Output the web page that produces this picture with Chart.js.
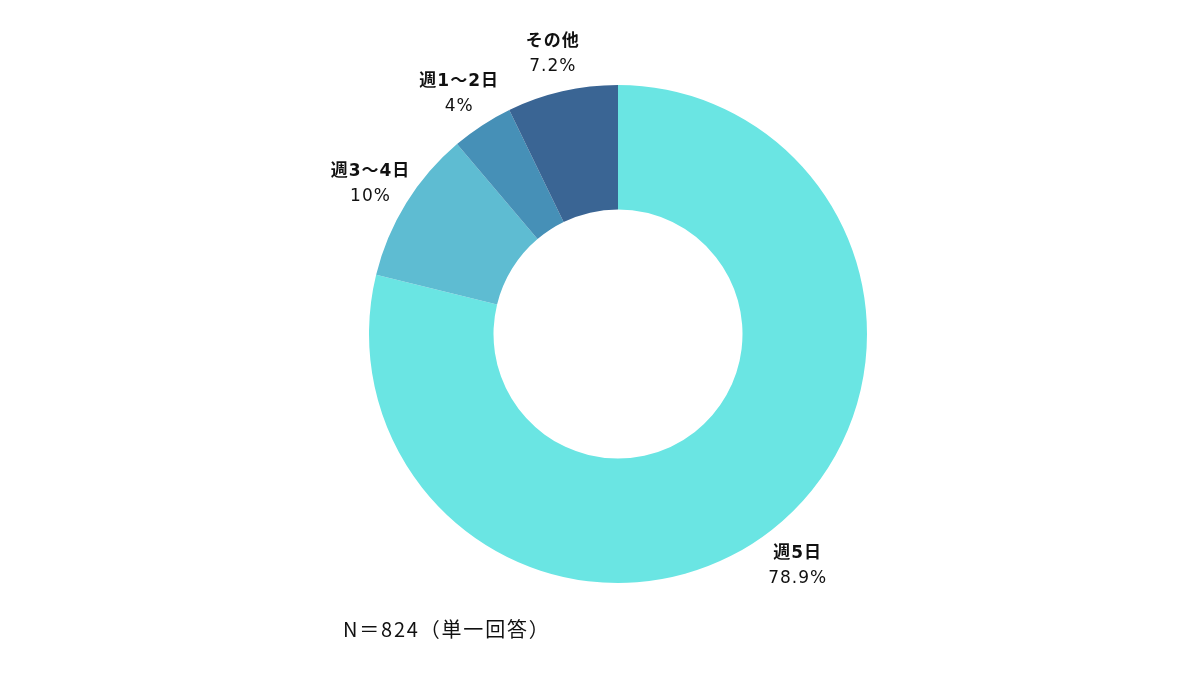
<!DOCTYPE html>
<html lang="ja">
<head>
    <meta charset="UTF-8">
    <title>勤務日数</title>
    <style>
        body {
            margin: 0;
            background: #ffffff;
            font-family: "Noto Sans CJK JP", "Noto Sans", sans-serif;
        }
        .wrap {
            position: relative;
            width: 1200px;
            height: 675px;
        }
        .note {
            position: absolute;
            left: 343px;
            top: 614px;
            font-size: 20px;
            color: #111;
            letter-spacing: 1.8px;
        }
    </style>
    <script src="https://cdn.jsdelivr.net/npm/chart.js"></script>
</head>
<body>
    <div class="wrap">
        <canvas id="donut" width="1200" height="675"></canvas>
        <div class="note">N＝824（単一回答）</div>
    </div>

    <script>
        const labels = ["週5日", "週3～4日", "週1～2日", "その他"];
        const values = [78.9, 10, 4, 7.2];
        const valueText = ["78.9%", "10%", "4%", "7.2%"];
        const colors = ["#6ae5e3", "#5ebcd2", "#4690b7", "#3a6594"];

        // labels outside each slice: name on top line, percent below
        const outsideLabels = {
            id: "outsideLabels",
            afterDraw(chart) {
                const ctx = chart.ctx;
                const meta = chart.getDatasetMeta(0);
                ctx.save();
                ctx.textAlign = "center";
                ctx.textBaseline = "middle";
                ctx.fillStyle = "#111";
                ctx.letterSpacing = "1px";
                meta.data.forEach((arc, i) => {
                    const mid = (arc.startAngle + arc.endAngle) / 2;
                    const r = arc.outerRadius + 42;
                    const x = arc.x + Math.cos(mid) * r;
                    const y = arc.y + Math.sin(mid) * r;
                    ctx.font = "bold 17px 'DejaVu Sans', 'Noto Sans CJK JP'";
                    ctx.fillText(labels[i], x, y - 9);
                    ctx.font = "17px 'DejaVu Sans', 'Noto Sans CJK JP'";
                    ctx.fillText(valueText[i], x, y + 16);
                });
                ctx.restore();
            }
        };

        new Chart(document.getElementById("donut"), {
            type: "doughnut",
            data: {
                labels: labels,
                datasets: [{
                    data: values,
                    backgroundColor: colors,
                    borderWidth: 0
                }]
            },
            options: {
                responsive: false,
                animation: false,
                cutout: "50%",
                layout: {
                    padding: { top: 85, bottom: 92, left: 36, right: 0 }
                },
                plugins: {
                    legend: { display: false },
                    tooltip: { enabled: false }
                }
            },
            plugins: [outsideLabels]
        });
    </script>
</body>
</html>
